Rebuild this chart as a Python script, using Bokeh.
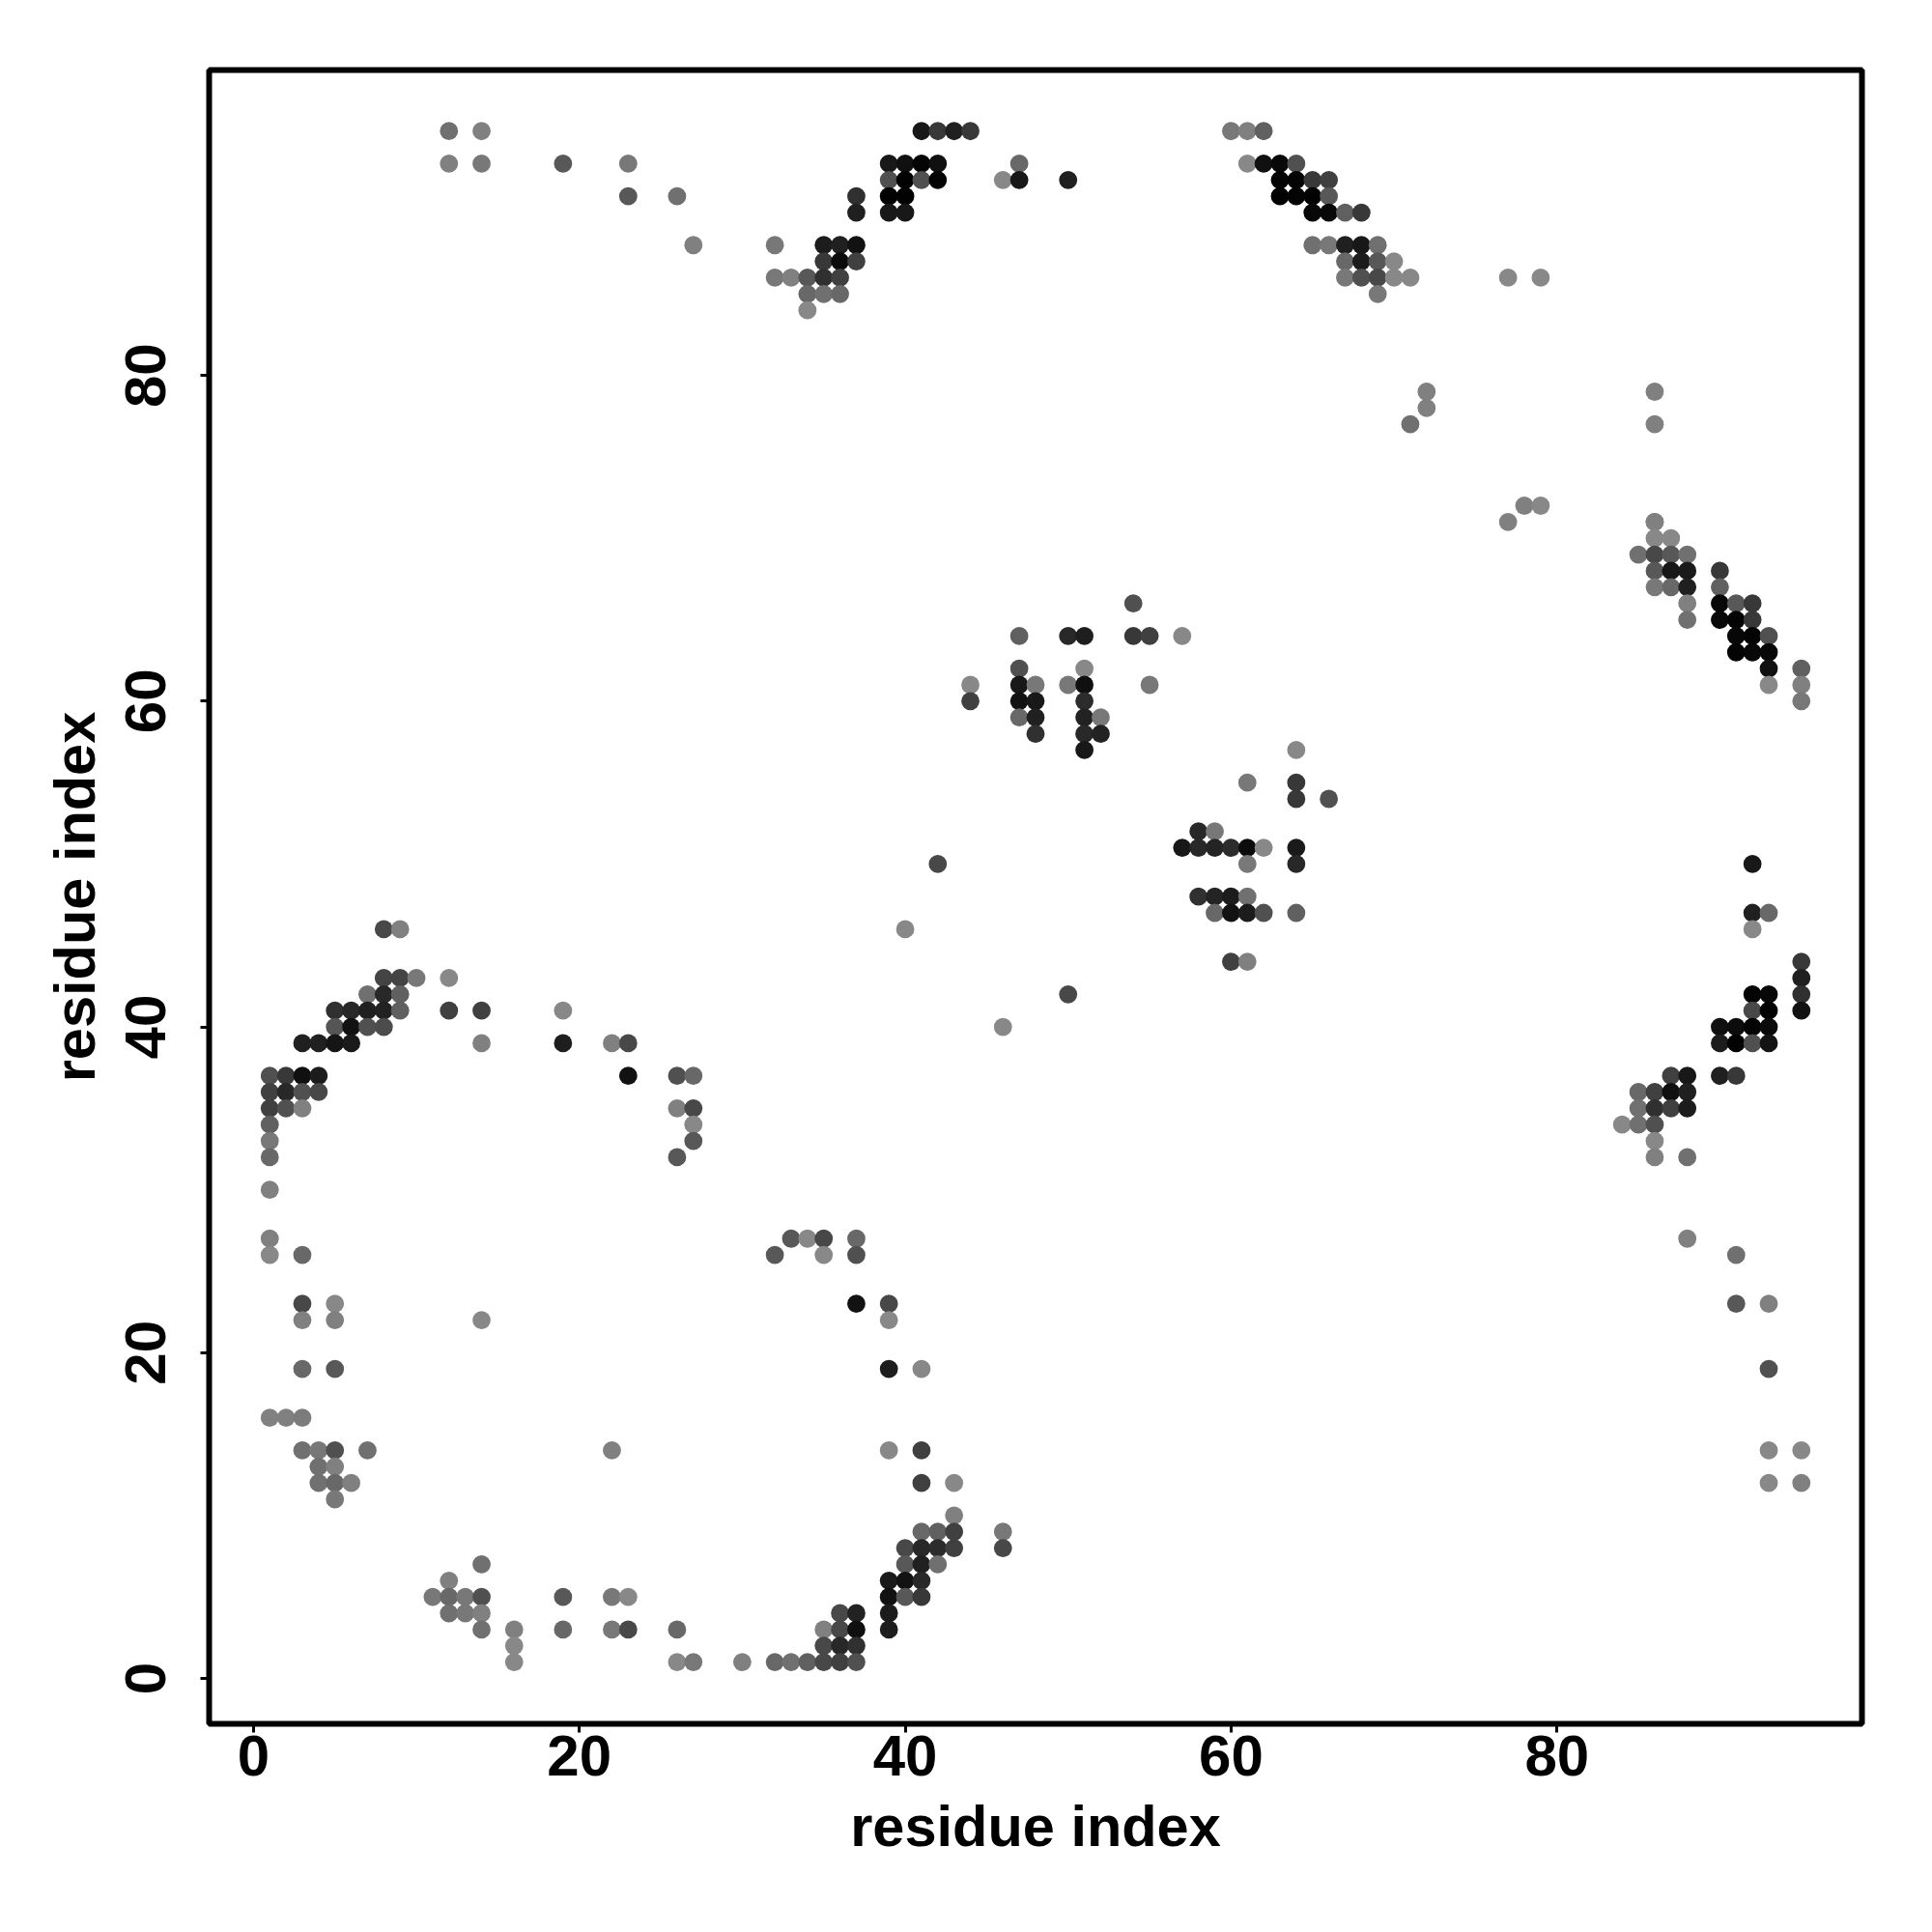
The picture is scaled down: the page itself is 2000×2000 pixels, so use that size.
from bokeh.plotting import figure
from bokeh.embed import file_html
from bokeh.resources import INLINE
from bokeh.models import ColumnDataSource, FixedTicker, Range1d

TICKS = [0, 20, 40, 60, 80]
X_LABEL = "residue index"
Y_LABEL = "residue index"

# one line per row of the contact map: residue i, residue j, grey level
residue_i = [
    12, 14, 41, 42, 43, 44, 60, 61, 62,
    12, 14, 19, 23, 39, 40, 41, 42, 47, 61, 62, 63, 64,
    39, 40, 41, 42, 46, 47, 50, 63, 64, 65, 66,
    23, 26, 37, 39, 40, 63, 64, 65, 66,
    37, 39, 40, 65, 66, 67, 68,
    27, 32, 35, 36, 37, 65, 66, 67, 68, 69,
    35, 36, 37, 67, 68, 69, 70,
    32, 33, 34, 35, 36, 67, 68, 69, 70, 71, 77, 79,
    34, 35, 36, 69,
    34,
    72, 86,
    72,
    71, 86,
    78, 79,
    77, 86,
    86,
    86, 87,
    85, 86, 87, 88,
    86, 87, 88, 90,
    86, 87, 88, 90,
    54, 88, 90, 91, 92,
    88, 90, 91, 92,
    47, 50, 51, 54, 55, 57, 91, 92, 93,
    91, 92, 93,
    47, 51, 93, 95,
    44, 47, 48, 50, 51, 55, 93, 95,
    44, 47, 48, 51, 95,
    47, 48, 51, 52,
    48, 51, 52,
    51, 64,
    61, 64,
    64, 66,
    58, 59,
    57, 58, 59, 60, 61, 62, 64,
    42, 61, 64, 92,
    58, 59, 60, 61,
    59, 60, 61, 62, 64, 92, 93,
    8, 9, 40, 92,
    60, 61, 95,
    8, 9, 10, 12, 95,
    7, 8, 9, 50, 92, 93, 95,
    5, 6, 7, 8, 9, 12, 14, 19, 92, 93, 95,
    5, 6, 7, 8, 46, 90, 91, 92, 93,
    3, 4, 5, 6, 14, 19, 22, 23, 90, 91, 92, 93,
    1, 2, 3, 4, 23, 26, 27, 87, 88, 90, 91,
    1, 2, 3, 4, 85, 86, 87, 88,
    1, 2, 3, 26, 27, 85, 86, 87, 88,
    1, 27, 84, 85, 86,
    1, 27, 86,
    1, 26, 86, 88,
    1,
    1, 33, 34, 35, 37, 88,
    1, 3, 32, 35, 37, 91,
    3, 5, 37, 39, 91, 93,
    3, 5, 14, 39,
    3, 5, 39, 41, 93,
    1, 2, 3,
    3, 4, 5, 7, 22, 39, 41, 93, 95,
    4, 5,
    4, 5, 6, 41, 43, 93, 95,
    5,
    43,
    41, 42, 43, 46,
    40, 41, 42, 43, 46,
    14, 40, 41, 42,
    12, 39, 40, 41,
    11, 12, 13, 14, 19, 22, 23, 39, 40, 41,
    12, 13, 14, 36, 37, 39,
    14, 16, 19, 22, 23, 26, 35, 36, 37, 39,
    16, 35, 36, 37,
    16, 26, 27, 30, 32, 33, 34, 35, 36, 37,
]
residue_j = [
    95, 95, 95, 95, 95, 95, 95, 95, 95,
    93, 93, 93, 93, 93, 93, 93, 93, 93, 93, 93, 93, 93,
    92, 92, 92, 92, 92, 92, 92, 92, 92, 92, 92,
    91, 91, 91, 91, 91, 91, 91, 91, 91,
    90, 90, 90, 90, 90, 90, 90,
    88, 88, 88, 88, 88, 88, 88, 88, 88, 88,
    87, 87, 87, 87, 87, 87, 87,
    86, 86, 86, 86, 86, 86, 86, 86, 86, 86, 86, 86,
    85, 85, 85, 85,
    84,
    79, 79,
    78,
    77, 77,
    72, 72,
    71, 71,
    71,
    70, 70,
    69, 69, 69, 69,
    68, 68, 68, 68,
    67, 67, 67, 67,
    66, 66, 66, 66, 66,
    65, 65, 65, 65,
    64, 64, 64, 64, 64, 64, 64, 64, 64,
    63, 63, 63,
    62, 62, 62, 62,
    61, 61, 61, 61, 61, 61, 61, 61,
    60, 60, 60, 60, 60,
    59, 59, 59, 59,
    58, 58, 58,
    57, 57,
    55, 55,
    54, 54,
    52, 52,
    51, 51, 51, 51, 51, 51, 51,
    50, 50, 50, 50,
    48, 48, 48, 48,
    47, 47, 47, 47, 47, 47, 47,
    46, 46, 46, 46,
    44, 44, 44,
    43, 43, 43, 43, 43,
    42, 42, 42, 42, 42, 42, 42,
    41, 41, 41, 41, 41, 41, 41, 41, 41, 41, 41,
    40, 40, 40, 40, 40, 40, 40, 40, 40,
    39, 39, 39, 39, 39, 39, 39, 39, 39, 39, 39, 39,
    37, 37, 37, 37, 37, 37, 37, 37, 37, 37, 37,
    36, 36, 36, 36, 36, 36, 36, 36,
    35, 35, 35, 35, 35, 35, 35, 35, 35,
    34, 34, 34, 34, 34,
    33, 33, 33,
    32, 32, 32, 32,
    30,
    27, 27, 27, 27, 27, 27,
    26, 26, 26, 26, 26, 26,
    23, 23, 23, 23, 23, 23,
    22, 22, 22, 22,
    19, 19, 19, 19, 19,
    16, 16, 16,
    14, 14, 14, 14, 14, 14, 14, 14, 14,
    13, 13,
    12, 12, 12, 12, 12, 12, 12,
    11,
    10,
    9, 9, 9, 9,
    8, 8, 8, 8, 8,
    7, 7, 7, 7,
    6, 6, 6, 6,
    5, 5, 5, 5, 5, 5, 5, 5, 5, 5,
    4, 4, 4, 4, 4, 4,
    3, 3, 3, 3, 3, 3, 3, 3, 3, 3,
    2, 2, 2, 2,
    1, 1, 1, 1, 1, 1, 1, 1, 1, 1,
]
grey_level = [
    0x70, 0x80, 0x18, 0x38, 0x20, 0x38, 0x78, 0x80, 0x60,
    0x80, 0x78, 0x58, 0x78, 0x18, 0x10, 0x04, 0x10, 0x68, 0x88, 0x10, 0x08, 0x50,
    0x50, 0x02, 0x50, 0x04, 0x88, 0x18, 0x20, 0x04, 0x04, 0x38, 0x40,
    0x58, 0x70, 0x30, 0x02, 0x02, 0x02, 0x04, 0x02, 0x58,
    0x20, 0x18, 0x18, 0x08, 0x08, 0x60, 0x38,
    0x80, 0x78, 0x1c, 0x20, 0x12, 0x70, 0x78, 0x20, 0x18, 0x70,
    0x38, 0x0c, 0x40, 0x68, 0x1c, 0x58, 0x88,
    0x78, 0x80, 0x58, 0x30, 0x40, 0x78, 0x50, 0x48, 0x88, 0x88, 0x88, 0x88,
    0x68, 0x70, 0x68, 0x78,
    0x88,
    0x80, 0x80,
    0x80,
    0x70, 0x80,
    0x80, 0x88,
    0x80, 0x80,
    0x80,
    0x88, 0x88,
    0x70, 0x48, 0x58, 0x70,
    0x58, 0x18, 0x1a, 0x38,
    0x78, 0x68, 0x20, 0x60,
    0x50, 0x80, 0x08, 0x58, 0x38,
    0x70, 0x08, 0x04, 0x38,
    0x60, 0x28, 0x1e, 0x38, 0x40, 0x88, 0x08, 0x04, 0x50,
    0x04, 0x08, 0x08,
    0x50, 0x88, 0x10, 0x60,
    0x88, 0x18, 0x78, 0x78, 0x10, 0x78, 0x88, 0x80,
    0x40, 0x12, 0x18, 0x2c, 0x78,
    0x68, 0x20, 0x22, 0x78,
    0x30, 0x28, 0x22,
    0x18, 0x88,
    0x78, 0x38,
    0x38, 0x50,
    0x28, 0x78,
    0x18, 0x28, 0x24, 0x2c, 0x0c, 0x88, 0x1a,
    0x48, 0x78, 0x28, 0x18,
    0x30, 0x24, 0x1c, 0x70,
    0x68, 0x12, 0x1c, 0x50, 0x60, 0x20, 0x68,
    0x48, 0x80, 0x88, 0x88,
    0x40, 0x80, 0x38,
    0x44, 0x44, 0x78, 0x88, 0x20,
    0x70, 0x28, 0x60, 0x48, 0x04, 0x08, 0x30,
    0x30, 0x28, 0x20, 0x22, 0x60, 0x40, 0x40, 0x88, 0x48, 0x02, 0x12,
    0x55, 0x12, 0x50, 0x4c, 0x88, 0x10, 0x0c, 0x04, 0x0a,
    0x20, 0x20, 0x15, 0x1a, 0x80, 0x1e, 0x80, 0x48, 0x1c, 0x02, 0x50, 0x14,
    0x50, 0x38, 0x10, 0x1c, 0x12, 0x50, 0x68, 0x40, 0x18, 0x20, 0x38,
    0x40, 0x28, 0x50, 0x48, 0x68, 0x40, 0x10, 0x20,
    0x40, 0x50, 0x80, 0x80, 0x48, 0x70, 0x30, 0x40, 0x1c,
    0x60, 0x88, 0x88, 0x70, 0x50,
    0x78, 0x58, 0x88,
    0x68, 0x58, 0x80, 0x70,
    0x80,
    0x80, 0x58, 0x88, 0x48, 0x68, 0x80,
    0x88, 0x68, 0x58, 0x88, 0x50, 0x70,
    0x48, 0x88, 0x12, 0x48, 0x58, 0x80,
    0x80, 0x80, 0x88, 0x88,
    0x68, 0x58, 0x1e, 0x88, 0x50,
    0x80, 0x80, 0x7c,
    0x70, 0x78, 0x50, 0x70, 0x80, 0x88, 0x40, 0x88, 0x88,
    0x70, 0x80,
    0x70, 0x68, 0x80, 0x40, 0x88, 0x88, 0x80,
    0x78,
    0x80,
    0x68, 0x60, 0x40, 0x78,
    0x48, 0x28, 0x2c, 0x40, 0x48,
    0x70, 0x58, 0x20, 0x70,
    0x80, 0x1a, 0x12, 0x28,
    0x78, 0x68, 0x78, 0x50, 0x58, 0x78, 0x88, 0x12, 0x58, 0x38,
    0x70, 0x78, 0x80, 0x48, 0x22, 0x1c,
    0x70, 0x80, 0x68, 0x78, 0x48, 0x68, 0x80, 0x48, 0x10, 0x1e,
    0x88, 0x48, 0x28, 0x30,
    0x88, 0x88, 0x78, 0x80, 0x68, 0x70, 0x60, 0x48, 0x40, 0x50,
]

source = ColumnDataSource(dict(
    i=residue_i, j=residue_j,
    colour=[f"#{g:02x}{g:02x}{g:02x}" for g in grey_level],
))

W, H = 1984, 1984
p = figure(width=W, height=H, output_backend="svg", toolbar_location=None,
           x_range=Range1d(-2.72, 98.72), y_range=Range1d(-2.79, 98.75),
           min_border_left=216, min_border_right=57, min_border_top=72, min_border_bottom=200,
           x_axis_label=X_LABEL, y_axis_label=Y_LABEL)
p.grid.visible = False
p.outline_line_color = "black"
p.outline_line_width = 6
p.background_fill_color = "white"
p.border_fill_color = "white"

p.scatter("i", "j", source=source, size=18.8, marker="circle",
          fill_color="colour", line_color=None)

FONT = "Liberation Sans"
for ax in (p.xaxis[0], p.yaxis[0]):
    ax.ticker = FixedTicker(ticks=TICKS)
    ax.axis_line_color = None
    ax.major_tick_line_color = "black"
    ax.major_tick_line_width = 3
    ax.major_tick_in = 0
    ax.major_tick_out = 9
    ax.minor_tick_line_color = None
    ax.major_label_text_font = FONT
    ax.major_label_text_font_style = "bold"
    ax.major_label_text_font_size = "60px"
    ax.major_label_text_color = "black"
    ax.axis_label_text_font = FONT
    ax.axis_label_text_font_style = "bold"
    ax.axis_label_text_font_size = "59.5px"
    ax.axis_label_text_color = "black"
p.xaxis[0].major_label_standoff = 3
p.yaxis[0].major_label_standoff = 36
p.xaxis[0].axis_label_standoff = 16
p.yaxis[0].axis_label_standoff = 17
p.yaxis[0].major_label_orientation = "vertical"

open("out.html", "w").write(file_html(p, INLINE))
